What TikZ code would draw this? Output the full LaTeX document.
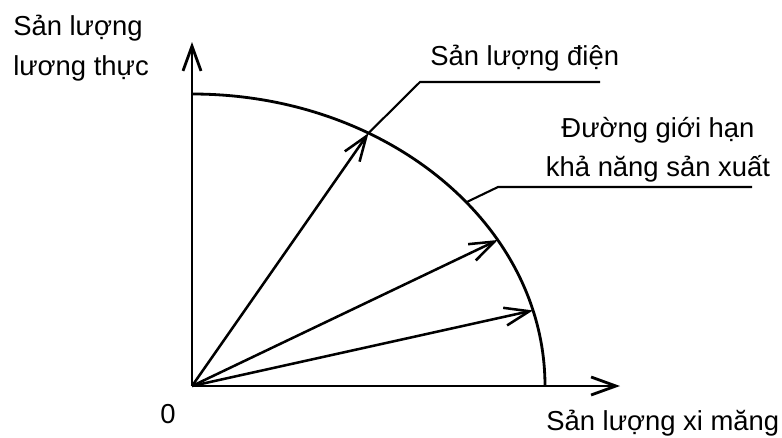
\documentclass[tikz,border=0pt]{standalone}
\usepackage{fontspec}
\setmainfont{Liberation Sans}
\usetikzlibrary{arrows.meta}
\tikzset{
  axis/.style={line width=2pt, -{Straight Barb[length=0.62cm,width=0.45cm]}},
  vec/.style={line width=1.8pt, -{Straight Barb[length=0.62cm,width=0.45cm]}},
  leader/.style={line width=1.5pt},
  lbl/.style={inner sep=0pt, font=\fontsize{19.5}{28}\selectfont},
}
\begin{document}
\begin{tikzpicture}[x=0.025cm, y=0.025cm]
  \useasboundingbox (0,0) rectangle (782,437);
  % axes
  \coordinate (O) at (192,51);
  \coordinate (ytip) at (192,395);
  \coordinate (xtip) at (620,51);
  \draw[axis] (O) -- (ytip);
  \draw[axis] (O) -- (xtip);
  % production possibility frontier
  \coordinate (top) at ([shift={(90:353 and 292)}]O);
  \draw[line width=2pt] (top) arc[start angle=90, end angle=0, x radius=353, y radius=292];
  \foreach \a/\n in {60/p1, 30/p2, 15/p3, 39/p4}
    \coordinate (\n) at ([shift={(\a:353 and 292)}]O);
  \foreach \n in {p1, p2, p3}
    \draw[vec] (O) -- (\n);
  % leaders
  \coordinate (k1) at (420,355);
  \coordinate (k1e) at (600,355);
  \coordinate (k2) at (498,250);
  \coordinate (k2e) at (752,250);
  \draw[leader] (p1) -- (k1) -- (k1e);
  \draw[leader] (p4) -- (k2) -- (k2e);
  % labels
  \node[lbl, anchor=north west, align=left] (food) at (13,422) {Sản lượng\\lương thực};
  \node[lbl, anchor=base west] (power) at (430,372) {Sản lượng điện};
  \node[lbl, anchor=north, align=center] (ppf) at (658,320) {Đường giới hạn\\khả năng sản xuất};
  \node[lbl, anchor=base west] (cement) at (546,7) {Sản lượng xi măng};
  \node[lbl, anchor=base] (zero) at (168,14) {0};
\end{tikzpicture}
\end{document}
